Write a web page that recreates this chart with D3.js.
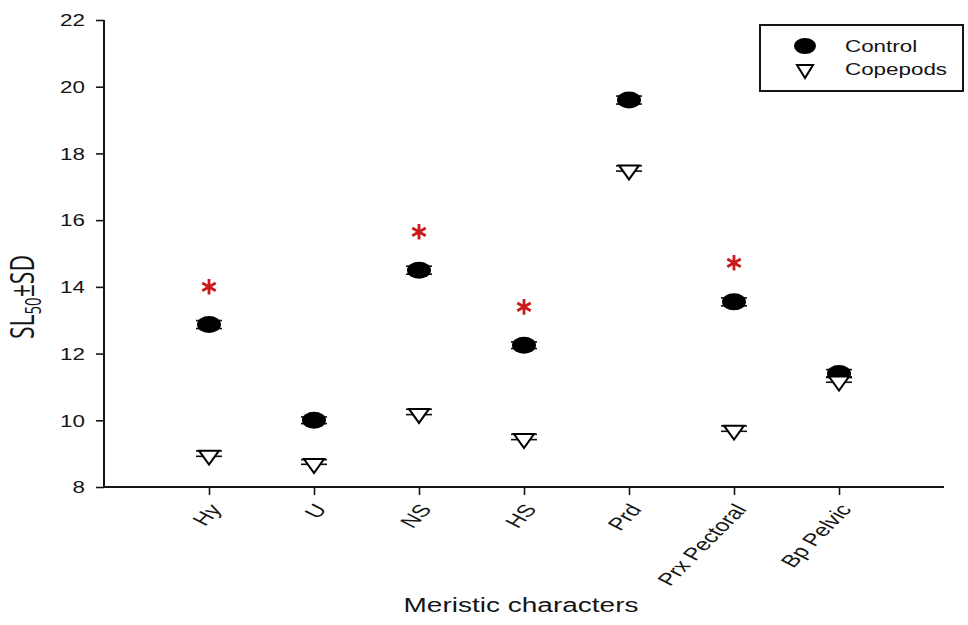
<!DOCTYPE html>
<html>
<head>
<meta charset="utf-8">
<script src="https://cdn.jsdelivr.net/npm/d3@7"></script>
<style>
  html, body { margin: 0; padding: 0; background: #fff; }
  svg { display: block; }
  text { font-family: "Liberation Sans", Arial, sans-serif; fill: #151515; }
</style>
</head>
<body>
<svg id="chart" width="968" height="625"></svg>
<script>
// Meristic characters and SL50 values (mean and SD) for each feeding group
const categories = ["Hy", "U", "NS", "HS", "Prd", "Prx Pectoral", "Bp Pelvic"];
const controlMean = [12.87, 10.0, 14.5, 12.25, 19.6, 13.55, 11.4];
const controlSD   = [0.12, 0.1, 0.12, 0.1, 0.12, 0.12, 0.12];
const copepodMean = [9.0, 8.75, 10.25, 9.5, 17.55, 9.75, 11.22];
const copepodSD   = [0.08, 0.07, 0.08, 0.08, 0.08, 0.08, 0.08];
// Significance markers: category and vertical placement
const sigCategories = ["Hy", "NS", "HS", "Prx Pectoral"];
const sigLevels     = [14.0, 15.65, 13.4, 14.72];
const yTicks = [8, 10, 12, 14, 16, 18, 20, 22];
const seriesNames = ["Control", "Copepods"];

// Text is drawn wide (horizontal stretch) to suit the wide plot
const SX = 1.4;
// rotation before the stretch so category labels end up at 45 degrees
const labelAngle = Math.atan(SX) * 180 / Math.PI;

const svg = d3.select("#chart");
const plotLeft = 104, plotRight = 944, plotTop = 20, plotBottom = 487;

const x = d3.scaleLinear().domain([0, categories.length + 1]).range([plotLeft, plotRight]);
const y = d3.scaleLinear().domain([8, 22]).range([plotBottom, plotTop]);
const xPos = c => x(categories.indexOf(c) + 1);

// Y axis
const yAxis = svg.append("g")
  .attr("transform", `translate(${plotLeft},0)`)
  .call(d3.axisLeft(y).tickValues(yTicks).tickSize(8).tickSizeOuter(0));
yAxis.select(".domain").attr("stroke", "#151515").attr("stroke-width", 2)
  .attr("d", `M0,${y(22)}V${y(8)}`);
yAxis.selectAll(".tick line").attr("stroke", "#151515").attr("stroke-width", 1.6);
yAxis.selectAll(".tick text")
  .attr("font-size", 16).attr("fill", "#151515")
  .style("font-family", "Liberation Sans, Arial, sans-serif")
  .attr("x", 0).attr("dy", "0.36em")
  .attr("transform", `translate(-19,0) scale(${SX},1)`);

// X axis
const xAxis = svg.append("g")
  .attr("transform", `translate(0,${plotBottom})`)
  .call(d3.axisBottom(x).tickValues(categories.map((c, i) => i + 1))
    .tickFormat(d => categories[d - 1]).tickSize(8).tickSizeOuter(0));
xAxis.select(".domain").attr("stroke", "#151515").attr("stroke-width", 2)
  .attr("d", `M${plotLeft},0H${plotRight}`);
xAxis.selectAll(".tick line").attr("stroke", "#151515").attr("stroke-width", 1.6);
xAxis.selectAll(".tick text")
  .attr("font-size", 17.5).attr("fill", "#151515")
  .style("font-family", "Liberation Sans, Arial, sans-serif")
  .attr("text-anchor", "end")
  .attr("x", 0).attr("y", 0).attr("dy", "0.35em")
  .attr("transform", `translate(6,19) scale(${SX},1) rotate(${-labelAngle})`);

// Axis titles
svg.append("text")
  .attr("transform", `translate(521,612) scale(${SX},1)`)
  .attr("text-anchor", "middle")
  .attr("font-size", 20)
  .text("Meristic characters");

const yTitle = svg.append("text")
  .attr("transform", `translate(34,297) scale(${SX},1) rotate(-90)`)
  .attr("text-anchor", "middle")
  .attr("font-size", 23)
  .style("font-family", "'Open Sans', 'Noto Sans', sans-serif");
yTitle.append("tspan").text("SL");
yTitle.append("tspan").attr("font-size", 15).attr("dy", 5).text("50");
yTitle.append("tspan").attr("dy", -5).text("±SD");

// Error bars
function errorBars(means, sds, capHalf) {
  const g = svg.append("g").attr("stroke", "#111").attr("stroke-width", 1.6);
  categories.forEach((c, i) => {
    const cx = xPos(c);
    const y1 = y(means[i] + sds[i]), y2 = y(means[i] - sds[i]);
    g.append("line").attr("x1", cx).attr("x2", cx).attr("y1", y1).attr("y2", y2);
    g.append("line").attr("x1", cx - capHalf).attr("x2", cx + capHalf).attr("y1", y1).attr("y2", y1);
    g.append("line").attr("x1", cx - capHalf).attr("x2", cx + capHalf).attr("y1", y2).attr("y2", y2);
  });
}

// Control: filled black markers
errorBars(controlMean, controlSD, 13);
svg.append("g").selectAll("ellipse").data(categories).join("ellipse")
  .attr("cx", c => xPos(c))
  .attr("cy", (c, i) => y(controlMean[i]))
  .attr("rx", 12).attr("ry", 8.5)
  .attr("fill", "#000");

// Copepods: open down-pointing triangles
errorBars(copepodMean, copepodSD, 13);
const tri = (cx, cy) => `M${cx - 10},${cy - 3}L${cx + 10},${cy - 3}L${cx},${cy + 11}Z`;
svg.append("g").selectAll("path").data(categories).join("path")
  .attr("d", (c, i) => tri(xPos(c), y(copepodMean[i])))
  .attr("fill", "#fff").attr("stroke", "#000").attr("stroke-width", 2);

// Significance asterisks
const star = d3.symbol().type(d3.symbolAsterisk).size(170);
svg.append("g").selectAll("path").data(sigCategories).join("path")
  .attr("d", star)
  .attr("transform", (c, i) => `translate(${xPos(c)},${y(sigLevels[i])})`)
  .attr("fill", "none").attr("stroke", "#cc1a1a").attr("stroke-width", 2.8);

// Legend
const lg = svg.append("g");
lg.append("rect").attr("x", 760).attr("y", 25).attr("width", 203).attr("height", 66)
  .attr("fill", "#fff").attr("stroke", "#151515").attr("stroke-width", 2);
lg.append("ellipse").attr("cx", 805).attr("cy", 46).attr("rx", 11).attr("ry", 8).attr("fill", "#000");
lg.append("path").attr("d", `M797,65L813,65L805,78Z`)
  .attr("fill", "#fff").attr("stroke", "#000").attr("stroke-width", 2);
lg.selectAll("text").data(seriesNames).join("text")
  .attr("transform", (d, i) => `translate(845,${52 + i * 23}) scale(${SX},1)`)
  .attr("font-size", 16)
  .text(d => d);
</script>
</body>
</html>
